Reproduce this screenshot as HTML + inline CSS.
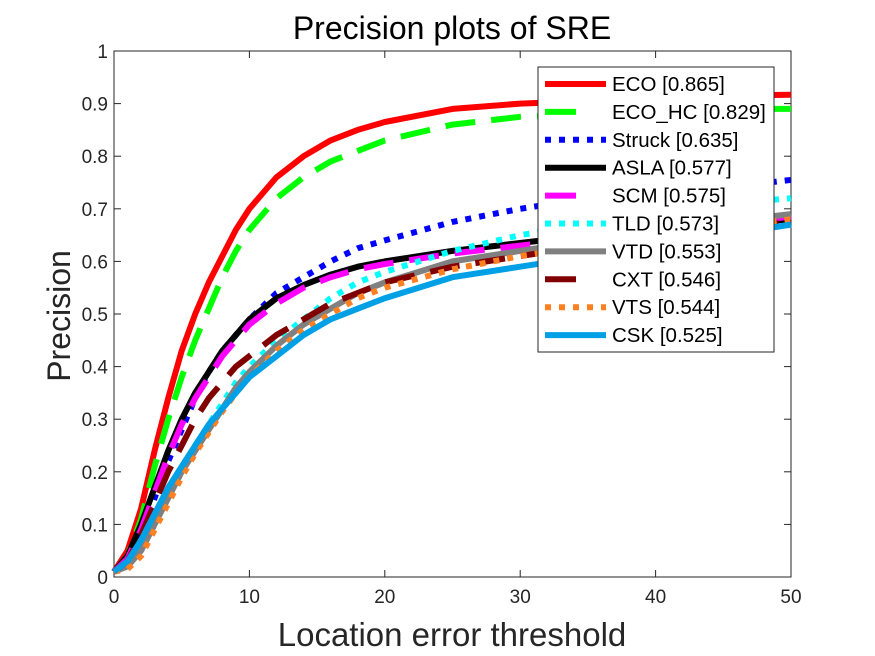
<!DOCTYPE html>
<html><head><meta charset="utf-8"><style>
body{margin:0;background:#fff;}
svg{display:block;font-family:"Liberation Sans",Arial,sans-serif;}
</style></head><body>
<svg id="chart" width="875" height="656" viewBox="0 0 875 656" xmlns="http://www.w3.org/2000/svg">
<rect x="0" y="0" width="875" height="656" fill="#fff"/>
<text x="452" y="39" font-size="32" text-anchor="middle" fill="#000">Precision plots of SRE</text>
<g id="axes"></g>
<g id="series"></g>
<g id="legend"></g>
<text x="452" y="646" font-size="33" text-anchor="middle" fill="#262626">Location error threshold</text>
<text x="0" y="0" transform="translate(70,316) rotate(-90)" font-size="32" text-anchor="middle" fill="#262626">Precision</text>
</svg>
<script>
const thresholds = [0,1,2,3,4,5,6,7,8,9,10,12,14,16,18,20,25,30,35,40,45,50];
const ecoVals    = [0.01,0.05,0.13,0.24,0.34,0.43,0.50,0.56,0.61,0.66,0.70,0.76,0.80,0.83,0.85,0.865,0.89,0.90,0.905,0.91,0.915,0.917];
const ecoHcVals  = [0.01,0.04,0.11,0.21,0.30,0.38,0.45,0.51,0.57,0.62,0.66,0.72,0.76,0.79,0.81,0.83,0.86,0.875,0.88,0.885,0.89,0.89];
const struckVals = [0.01,0.03,0.08,0.15,0.22,0.28,0.34,0.39,0.43,0.46,0.49,0.54,0.57,0.60,0.625,0.64,0.675,0.70,0.72,0.73,0.74,0.755];
const aslaVals   = [0.01,0.04,0.10,0.17,0.24,0.30,0.35,0.39,0.43,0.46,0.49,0.53,0.555,0.575,0.59,0.60,0.62,0.635,0.65,0.66,0.67,0.68];
const scmVals    = [0.01,0.035,0.09,0.16,0.23,0.29,0.34,0.38,0.42,0.45,0.48,0.52,0.55,0.57,0.585,0.595,0.615,0.63,0.645,0.66,0.672,0.685];
const tldVals    = [0.01,0.02,0.05,0.10,0.15,0.20,0.25,0.29,0.33,0.37,0.40,0.45,0.49,0.53,0.56,0.58,0.62,0.65,0.67,0.69,0.71,0.72];
const vtdVals    = [0.01,0.02,0.05,0.10,0.15,0.20,0.24,0.28,0.32,0.36,0.39,0.44,0.48,0.51,0.54,0.56,0.60,0.62,0.64,0.66,0.675,0.69];
const cxtVals    = [0.01,0.03,0.08,0.14,0.20,0.25,0.30,0.34,0.37,0.40,0.42,0.46,0.49,0.52,0.54,0.56,0.59,0.61,0.63,0.65,0.66,0.675];
const vtsVals    = [0.01,0.015,0.04,0.09,0.14,0.19,0.235,0.275,0.315,0.35,0.38,0.43,0.47,0.50,0.53,0.55,0.585,0.61,0.63,0.65,0.665,0.68];
const cskVals    = [0.01,0.03,0.07,0.12,0.17,0.21,0.25,0.29,0.32,0.35,0.38,0.42,0.46,0.49,0.51,0.53,0.57,0.59,0.61,0.63,0.65,0.67];
const seriesNames = ["ECO [0.865]","ECO_HC [0.829]","Struck [0.635]","ASLA [0.577]","SCM [0.575]","TLD [0.573]","VTD [0.553]","CXT [0.546]","VTS [0.544]","CSK [0.525]"];
const xTicks = [0,10,20,30,40,50];
const yTicks = [0,0.1,0.2,0.3,0.4,0.5,0.6,0.7,0.8,0.9,1];

const NS="http://www.w3.org/2000/svg";
const L=114,R=791,T=51,B=577;
const xs=v=>L+(v-0)/(50-0)*(R-L);
const ys=v=>B-(v-0)/(1-0)*(B-T);
function mk(tag,attrs,parent){const e=document.createElementNS(NS,tag);for(const k in attrs)e.setAttribute(k,attrs[k]);parent.appendChild(e);return e;}

const axes=document.getElementById('axes');
const box=mk('rect',{x:L,y:T,width:R-L,height:B-T,fill:'none',stroke:'#262626','stroke-width':1},axes);


xTicks.forEach(t=>{
  const x=xs(t);
  mk('line',{x1:x,y1:B,x2:x,y2:B-7,stroke:'#262626'},axes);
  mk('line',{x1:x,y1:T,x2:x,y2:T+7,stroke:'#262626'},axes);
  const tx=mk('text',{x:x,y:B+26,'font-size':19,'text-anchor':'middle',fill:'#262626'},axes);
  tx.textContent=String(t);
  
  
});
yTicks.forEach(t=>{
  const y=ys(t);
  mk('line',{x1:L,y1:y,x2:L+7,y2:y,stroke:'#262626'},axes);
  mk('line',{x1:R,y1:y,x2:R-7,y2:y,stroke:'#262626'},axes);
  const tx=mk('text',{x:L-6,y:y+7,'font-size':19,'text-anchor':'end',fill:'#262626'},axes);
  tx.textContent=String(t);
  
  
});

const allVals=[ecoVals,ecoHcVals,struckVals,aslaVals,scmVals,tldVals,vtdVals,cxtVals,vtsVals,cskVals];
const styles=[
 {c:'#ff0000',d:'',w:6},
 {c:'#00ff00',d:'30 16',w:6},
 {c:'#0000ff',d:'6 8',w:6},
 {c:'#000000',d:'',w:6},
 {c:'#ff00ff',d:'30 16',w:6},
 {c:'#00ffff',d:'6 8',w:6},
 {c:'#808080',d:'',w:6},
 {c:'#800000',d:'30 16',w:6},
 {c:'#ff8020',d:'6 8',w:6},
 {c:'#00a0e6',d:'',w:6}
];
const sg=document.getElementById('series');
allVals.forEach((vals,i)=>{
  const pts=thresholds.map((t,j)=>xs(t).toFixed(1)+','+ys(vals[j]).toFixed(1)).join(' ');
  const p=mk('polyline',{points:pts,fill:'none',stroke:styles[i].c,'stroke-width':styles[i].w,'stroke-linejoin':'round','stroke-dasharray':styles[i].d||'none'},sg);
  
  
});

const lg=document.getElementById('legend');
const lb=mk('rect',{x:538,y:67,width:236,height:285,fill:'#fff',stroke:'#262626','stroke-width':1},lg);


seriesNames.forEach((n,i)=>{
  const y=84+i*27.9;
  const dashed=styles[i].d==='30 16';
  const ln=mk('line',{x1:545,y1:y,x2:dashed?576:606,y2:y,stroke:styles[i].c,'stroke-width':6,'stroke-dasharray':styles[i].d==='6 8'?'6 8':'none'},lg);
  
  
  const tx=mk('text',{x:612,y:y+7,'font-size':20.5,fill:'#000'},lg);
  tx.textContent=n;
  
  
});
</script>
</body></html>
